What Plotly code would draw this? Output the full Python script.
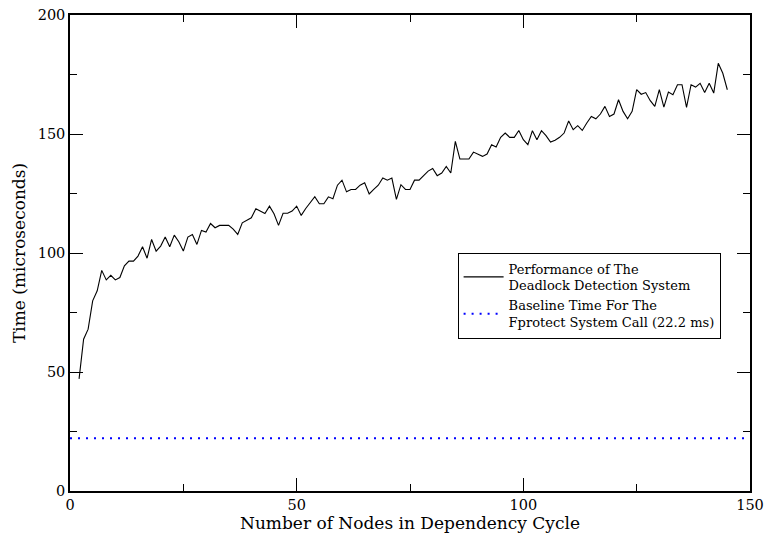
import plotly.graph_objects as go

# Data
nodes = list(range(2, 146))
times = [
    47.1, 63.8, 68.0, 79.9, 84.1, 92.7, 88.7, 90.6, 88.7, 89.7,
    94.6, 96.6, 96.6, 98.7, 102.6, 97.8, 105.7, 100.8, 102.9, 106.7,
    102.6, 107.5, 104.7, 100.8, 106.7, 107.8, 103.6, 109.5, 108.8, 112.4,
    110.6, 111.6, 111.6, 111.6, 110.0, 107.8, 112.7, 113.7, 114.8, 118.6,
    117.6, 116.6, 119.7, 116.5, 111.6, 116.7, 116.7, 117.6, 119.7, 115.8,
    118.7, 121.4, 123.7, 120.7, 120.7, 123.6, 122.8, 128.5, 130.6, 125.7,
    126.7, 126.7, 128.5, 129.5, 124.8, 126.7, 128.5, 131.5, 130.6, 131.5,
    122.5, 128.7, 126.7, 126.7, 130.6, 130.6, 132.5, 134.4, 135.5, 132.5,
    133.6, 136.4, 133.6, 146.9, 139.5, 139.5, 139.5, 142.4, 141.6, 140.6,
    141.6, 145.5, 144.5, 148.6, 150.4, 148.6, 148.6, 151.5, 147.6, 145.5,
    151.4, 147.6, 151.4, 149.3, 146.6, 147.4, 148.6, 150.4, 155.5, 151.8,
    153.5, 151.5, 154.6, 157.4, 156.4, 158.4, 161.6, 157.4, 158.4, 164.4,
    159.5, 156.4, 159.5, 168.6, 166.7, 167.4, 164.0, 161.6, 168.6, 161.3,
    167.6, 166.5, 170.7, 170.7, 161.2, 170.7, 169.7, 171.3, 167.4, 171.3,
    167.2, 179.7, 175.5, 168.6,
]
baseline_x = [0, 150]
baseline_y = [22.2, 22.2]

series_names = [
    "Performance of The<br>Deadlock Detection System",
    "Baseline Time For The<br>Fprotect System Call (22.2 ms)",
]

FONT = "DejaVu Serif"

fig = go.Figure()
fig.add_trace(go.Scatter(
    x=nodes, y=times, mode="lines", name=series_names[0],
    line=dict(color="black", width=1.1),
))
fig.add_trace(go.Scatter(
    x=baseline_x, y=baseline_y, mode="lines", name=series_names[1],
    line=dict(color="#0000ff", width=2, dash="2px,6px"),
))

axis_common = dict(
    showline=True, linecolor="black", linewidth=1.5, mirror="ticks",
    ticks="inside", ticklen=13, tickwidth=1, tickcolor="black",
    showgrid=False, zeroline=False, automargin=False,
    tickfont=dict(family=FONT, size=14.5, color="black"),
)

fig.update_layout(
    width=766, height=536,
    margin=dict(l=70, r=16, t=15, b=45),
    paper_bgcolor="white", plot_bgcolor="white",
    font=dict(family=FONT, size=14.5, color="black"),
    xaxis=dict(range=[0, 150], dtick=50, tick0=0,
               title=dict(text="Number of Nodes in Dependency Cycle", standoff=0,
                          font=dict(family=FONT, size=17, color="black")),
               minor=dict(dtick=25, ticks="inside", ticklen=7, tickcolor="black", tickwidth=1),
               **axis_common),
    yaxis=dict(range=[0, 200], dtick=50, tick0=0,
               title=dict(text="Time (microseconds)", standoff=8,
                          font=dict(family=FONT, size=17, color="black")),
               minor=dict(dtick=25, ticks="inside", ticklen=7, tickcolor="black", tickwidth=1),
               **axis_common),
    legend=dict(x=0.57, y=0.501, xanchor="left", yanchor="top",
                bgcolor="white", bordercolor="black", borderwidth=1,
                font=dict(family=FONT, size=13, color="black"),
                itemwidth=40, tracegroupgap=2),
    showlegend=True,
)

fig.write_html("out.html")
